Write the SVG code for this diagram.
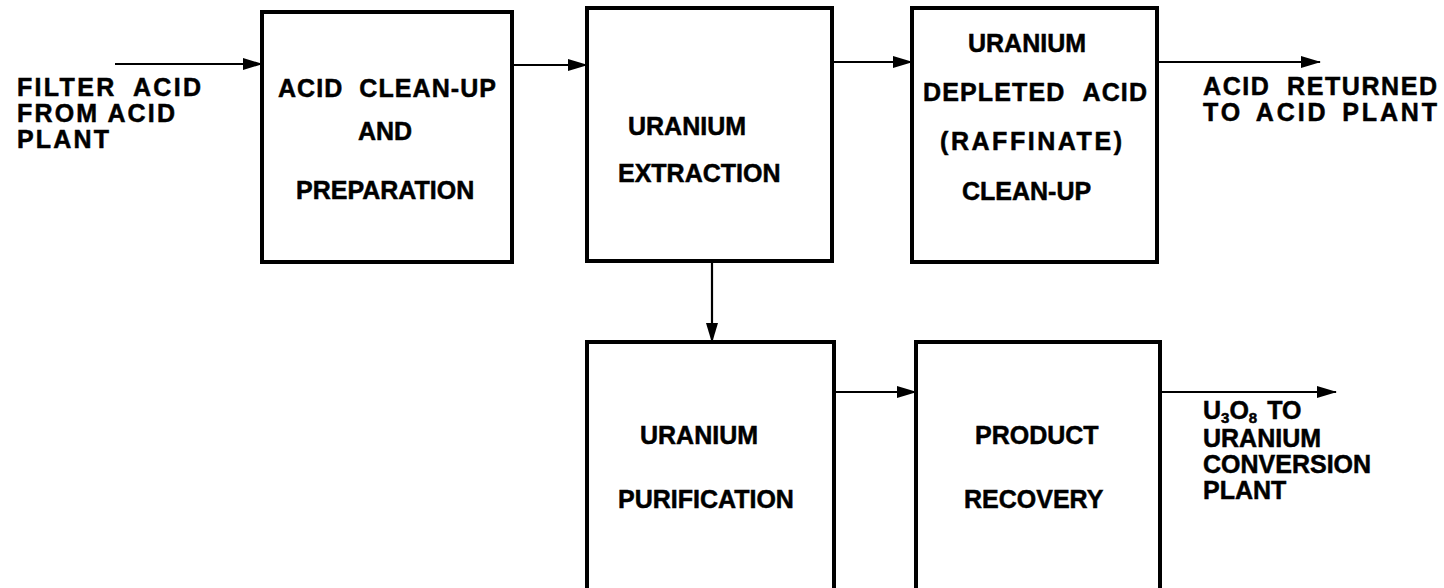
<svg xmlns="http://www.w3.org/2000/svg" width="1444" height="588" viewBox="0 0 1444 588">
<style>
.box{fill:none;stroke:#000;stroke-width:4}
.con{fill:none;stroke:#000;stroke-width:2.2}
text{font-family:"Liberation Sans",Arial,sans-serif;font-weight:bold;font-size:25px;fill:#000;stroke:#000;stroke-width:0.5}
.sub{font-size:15px}
</style>
<defs>
<marker id="ah" markerUnits="userSpaceOnUse" markerWidth="20" markerHeight="14" refX="19" refY="7" orient="auto">
<path d="M0,1 L20,7 L0,13 z" fill="#000"/>
</marker>
</defs>
<rect width="1444" height="588" fill="#fff"/>
<g id="connectors">
<line class="con" x1="115" y1="64" x2="262" y2="64" marker-end="url(#ah)"/>
<line class="con" x1="512" y1="65" x2="587" y2="65" marker-end="url(#ah)"/>
<line class="con" x1="832" y1="62" x2="912" y2="62" marker-end="url(#ah)"/>
<line class="con" x1="1157" y1="62" x2="1320" y2="62" marker-end="url(#ah)"/>
<line class="con" x1="712" y1="261" x2="712" y2="342" marker-end="url(#ah)"/>
<line class="con" x1="834" y1="392" x2="916" y2="392" marker-end="url(#ah)"/>
<line class="con" x1="1160" y1="392" x2="1336" y2="392" marker-end="url(#ah)"/>
</g>
<g id="input-label">
<text x="17" y="96" textLength="184" lengthAdjust="spacing" word-spacing="8">FILTER ACID</text>
<text x="17" y="122" textLength="158" lengthAdjust="spacing">FROM ACID</text>
<text x="17" y="148" textLength="92" lengthAdjust="spacing">PLANT</text>
</g>
<g id="acid-cleanup">
<rect class="box" x="262" y="12" width="250" height="250"/>
<text x="278" y="97" textLength="218" lengthAdjust="spacing" word-spacing="8">ACID CLEAN-UP</text>
<text x="358" y="140">AND</text>
<text x="296" y="199">PREPARATION</text>
</g>
<g id="uranium-extraction">
<rect class="box" x="587" y="8" width="245" height="253"/>
<text x="628" y="135">URANIUM</text>
<text x="618" y="182">EXTRACTION</text>
</g>
<g id="raffinate-cleanup">
<rect class="box" x="912" y="8" width="245" height="254"/>
<text x="968" y="52">URANIUM</text>
<text x="923" y="101" textLength="224" lengthAdjust="spacing" word-spacing="10">DEPLETED ACID</text>
<text x="940" y="150" textLength="182" lengthAdjust="spacing">(RAFFINATE)</text>
<text x="962" y="200">CLEAN-UP</text>
</g>
<g id="acid-returned-label">
<text x="1203" y="95" textLength="234" lengthAdjust="spacing" word-spacing="8">ACID RETURNED</text>
<text x="1203" y="121" textLength="234" lengthAdjust="spacing" word-spacing="4">TO ACID PLANT</text>
</g>
<g id="uranium-purification">
<rect class="box" x="587" y="342" width="247" height="250"/>
<text x="640" y="444">URANIUM</text>
<text x="618" y="508">PURIFICATION</text>
</g>
<g id="product-recovery">
<rect class="box" x="916" y="342" width="244" height="250"/>
<text x="975" y="444">PRODUCT</text>
<text x="964" y="508">RECOVERY</text>
</g>
<g id="u3o8-label">
<text x="1203" y="419">U<tspan class="sub" dy="4">3</tspan><tspan dy="-4">O</tspan><tspan class="sub" dy="4">8</tspan><tspan dy="-4" dx="10">TO</tspan></text>
<text x="1203" y="447">URANIUM</text>
<text x="1203" y="473">CONVERSION</text>
<text x="1203" y="499">PLANT</text>
</g>
</svg>
